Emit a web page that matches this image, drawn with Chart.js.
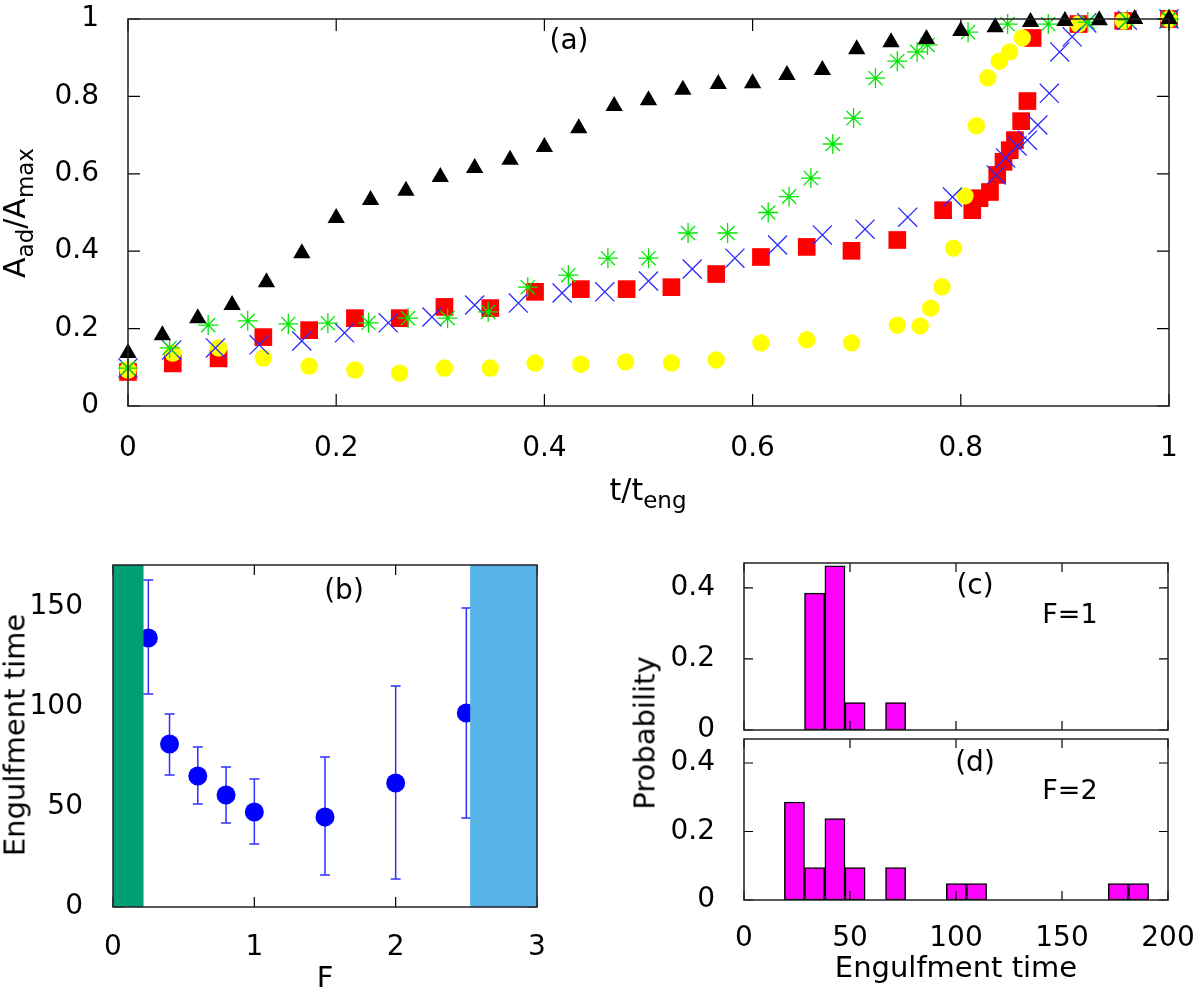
<!DOCTYPE html>
<html>
<head>
<meta charset="utf-8">
<script src="https://cdn.jsdelivr.net/npm/chart.js@4"></script>
<style>
  body { margin: 0; background: #fff; }
  #wrap { position: relative; width: 1200px; height: 992px; font-family: 'DejaVu Sans', sans-serif; color: #000; overflow: hidden; }
  canvas { position: absolute; }
  .lbl { position: absolute; transform: translate(-50%, -50%); line-height: 1; white-space: nowrap; }
  .rot { transform: translate(-50%, -50%) rotate(-90deg); }
  .sb { position: relative; top: 8px; font-size: 23px; }
</style>
</head>
<body>
<div id="wrap">
  <canvas id="chartA" width="1200" height="540" style="left:0;top:0"></canvas>
  <canvas id="chartB" width="580" height="452" style="left:0;top:540px"></canvas>
  <canvas id="chartC" width="620" height="200" style="left:580px;top:540px"></canvas>
  <canvas id="chartD" width="620" height="262" style="left:580px;top:730px"></canvas>

  <div class="lbl" style="left:569px;top:40px;font-size:28px">(a)</div>
  <div class="lbl rot" style="left:15px;top:213px;font-size:30px">A<span class="sb">ad</span>/A<span class="sb">max</span></div>
  <div class="lbl" style="left:648px;top:490px;font-size:30px">t/t<span class="sb">eng</span></div>

  <div class="lbl" style="left:344px;top:590px;font-size:28px">(b)</div>
  <div class="lbl rot" style="left:15px;top:735px;font-size:29px">Engulfment time</div>
  <div class="lbl" style="left:325px;top:977px;font-size:29px">F</div>

  <div class="lbl" style="left:975px;top:585px;font-size:28px">(c)</div>
  <div class="lbl" style="left:1070px;top:613px;font-size:27px">F=1</div>
  <div class="lbl" style="left:975px;top:762px;font-size:28px">(d)</div>
  <div class="lbl" style="left:1070px;top:789px;font-size:27px">F=2</div>
  <div class="lbl rot" style="left:645px;top:733px;font-size:29px">Probability</div>
  <div class="lbl" style="left:956px;top:967px;font-size:29px">Engulfment time</div>
</div>

<script>
// ---- panel (a): adhered area fraction vs normalised time ----
const triX = [0, 0.033, 0.067, 0.1, 0.133, 0.167, 0.2, 0.233, 0.267, 0.3, 0.333, 0.367, 0.4, 0.433, 0.467, 0.5,
  0.533, 0.567, 0.6, 0.633, 0.667, 0.7, 0.733, 0.767, 0.8, 0.833, 0.867, 0.9, 0.933, 0.967, 1];
const triY = [0.137, 0.183, 0.227, 0.261, 0.32, 0.395, 0.486, 0.532, 0.556, 0.592, 0.615, 0.636, 0.669, 0.718, 0.775, 0.79,
  0.817, 0.832, 0.834, 0.855, 0.868, 0.922, 0.94, 0.948, 0.969, 0.979, 0.992, 0.995, 0.997, 1.0, 1.0];

const starX = [0, 0.040, 0.077, 0.115, 0.154, 0.192, 0.231, 0.269, 0.307, 0.346, 0.384, 0.423, 0.461, 0.5, 0.538, 0.576,
  0.615, 0.635, 0.656, 0.677, 0.697, 0.718, 0.739, 0.758, 0.768, 0.807, 0.845, 0.884, 0.922, 0.96, 1.0];
const starY = [0.098, 0.15, 0.209, 0.22, 0.212, 0.214, 0.215, 0.227, 0.227, 0.243, 0.307, 0.338, 0.382, 0.382, 0.447, 0.447,
  0.5, 0.541, 0.589, 0.677, 0.744, 0.847, 0.891, 0.915, 0.933, 0.966, 0.987, 0.987, 0.992, 0.997, 1.0];

const crossX = [0, 0.042, 0.084, 0.126, 0.167, 0.208, 0.25, 0.292, 0.333, 0.375, 0.417, 0.458, 0.5, 0.542, 0.583, 0.624,
  0.667, 0.708, 0.749, 0.792, 0.834, 0.843, 0.854, 0.864, 0.874, 0.885, 0.895, 0.907, 0.921, 0.96, 1.0];
const crossY = [0.098, 0.145, 0.15, 0.158, 0.168, 0.189, 0.215, 0.23, 0.261, 0.266, 0.292, 0.295, 0.323, 0.354, 0.382, 0.416,
  0.442, 0.457, 0.488, 0.54, 0.597, 0.641, 0.672, 0.687, 0.726, 0.808, 0.915, 0.954, 0.99, 0.997, 1.0];

const squareX = [0, 0.043, 0.087, 0.13, 0.174, 0.218, 0.261, 0.304, 0.348, 0.391, 0.435, 0.479, 0.522, 0.565, 0.608, 0.652,
  0.695, 0.739, 0.783, 0.811, 0.818, 0.828, 0.835, 0.841, 0.847, 0.852, 0.858, 0.864, 0.869, 0.913, 0.956, 1.0];
const squareY = [0.088, 0.11, 0.123, 0.178, 0.196, 0.227, 0.227, 0.256, 0.253, 0.295, 0.302, 0.302, 0.307, 0.341, 0.385, 0.411,
  0.401, 0.429, 0.506, 0.506, 0.537, 0.553, 0.597, 0.631, 0.661, 0.687, 0.736, 0.788, 0.951, 0.987, 0.995, 1.0];

const circleX = [0, 0.043, 0.087, 0.13, 0.174, 0.218, 0.261, 0.304, 0.348, 0.391, 0.435, 0.478, 0.522, 0.565, 0.608, 0.652,
  0.695, 0.739, 0.761, 0.771, 0.782, 0.793, 0.804, 0.815, 0.826, 0.837, 0.847, 0.859, 0.913, 0.956, 1.0];
const circleY = [0.093, 0.137, 0.15, 0.124, 0.103, 0.093, 0.085, 0.098, 0.098, 0.111, 0.108, 0.114, 0.111, 0.119, 0.163, 0.171,
  0.163, 0.209, 0.207, 0.253, 0.308, 0.408, 0.543, 0.724, 0.848, 0.891, 0.915, 0.951, 0.987, 0.995, 1.0];

// ---- panel (b): engulfment time vs F ----
const forceF = [0.25, 0.4, 0.6, 0.8, 1, 1.5, 2, 2.5];
const engTime = [134.5, 81.5, 65.5, 56, 47.5, 45, 62, 97];
const engHigh = [163.5, 96.5, 80, 70, 64, 75, 110.5, 149.5];
const engLow = [106.5, 66, 51.5, 42, 31.5, 16, 14, 44.5];
const greenBand = [0, 0.216];
const blueBand = [2.527, 3];

// ---- panels (c), (d): histograms of engulfment time ----
const binsF1 = [33.3, 42.9, 52.4, 71.5];
const probF1 = [0.385, 0.462, 0.077, 0.077];
const binsF2 = [23.8, 33.3, 42.9, 52.4, 71.5, 100.2, 109.7, 176.6, 186.1];
const probF2 = [0.286, 0.095, 0.238, 0.095, 0.095, 0.048, 0.048, 0.048, 0.048];

Chart.defaults.font.family = "'DejaVu Sans', sans-serif";
Chart.defaults.color = '#000';

const pts = (xs, ys) => xs.map((v, i) => ({ x: v, y: ys[i] }));
// plain labels like gnuplot: 0, 0.2, ..., 1
const plain = v => String(Number(v.toFixed(2)));

// gnuplot-like frame: inward ticks on all four sides, then the box
function frame(len) {
  return {
    id: 'frame',
    afterDatasetsDraw(chart) {
      const { ctx, chartArea: a, scales: { x, y } } = chart;
      ctx.save();
      ctx.strokeStyle = '#000';
      ctx.lineWidth = 1.2;
      ctx.beginPath();
      x.ticks.forEach(t => {
        const px = x.getPixelForValue(t.value);
        ctx.moveTo(px, a.bottom); ctx.lineTo(px, a.bottom - len);
        ctx.moveTo(px, a.top); ctx.lineTo(px, a.top + len);
      });
      y.ticks.forEach(t => {
        const py = y.getPixelForValue(t.value);
        ctx.moveTo(a.left, py); ctx.lineTo(a.left + len, py);
        ctx.moveTo(a.right, py); ctx.lineTo(a.right - len, py);
      });
      ctx.stroke();
      ctx.restore();
    },
    afterDraw(chart) {
      const { ctx, chartArea: a } = chart;
      ctx.save();
      ctx.strokeStyle = '#222';
      ctx.lineWidth = 1.5;
      ctx.strokeRect(a.left, a.top, a.width, a.height);
      ctx.restore();
    }
  };
}

function xAxis(min, max, step, pad, height, showLabels, size) {
  return {
    type: 'linear', min: min, max: max, offset: false,
    grid: { display: false, offset: false }, border: { display: false },
    ticks: { stepSize: step, includeBounds: false, padding: pad, display: showLabels, font: { size: size }, callback: plain },
    afterFit: s => { s.height = height; s.paddingLeft = 0; s.paddingRight = 0; }
  };
}

function yAxis(min, max, step, pad, width, size) {
  return {
    type: 'linear', min: min, max: max,
    grid: { display: false }, border: { display: false },
    ticks: { stepSize: step, includeBounds: false, padding: pad, font: { size: size }, callback: plain },
    afterFit: s => { s.width = width; s.paddingTop = 0; s.paddingBottom = 0; }
  };
}

const baseOpts = {
  responsive: false,
  animation: false,
  plugins: { legend: { display: false }, tooltip: { enabled: false } }
};

// Panel (a)
new Chart(document.getElementById('chartA'), {
  type: 'scatter',
  data: {
    datasets: [
      { data: pts(triX, triY), pointStyle: 'triangle', pointRadius: 10, backgroundColor: '#000', borderWidth: 0, order: 0, clip: false },
      { data: pts(starX, starY), pointStyle: 'star', pointRadius: 10, borderColor: '#00e600', borderWidth: 1.3, order: 1, clip: false },
      { data: pts(crossX, crossY), pointStyle: 'crossRot', pointRadius: 13.5, borderColor: '#2a2aff', borderWidth: 1.3, order: 2, clip: false },
      { data: pts(circleX, circleY), pointStyle: 'circle', pointRadius: 8.7, backgroundColor: '#ffff00', borderWidth: 0, order: 3, clip: false },
      { data: pts(squareX, squareY), pointStyle: 'rect', pointRadius: 12.5, backgroundColor: '#ff0000', borderWidth: 0, order: 4, clip: false }
    ]
  },
  options: {
    ...baseOpts,
    layout: { padding: { top: 19, right: 31, left: 0, bottom: 0 } },
    scales: {
      x: xAxis(0, 1, 0.2, 18, 134, true, 28),
      y: yAxis(0, 1, 0.2, 21, 128, 28)
    }
  },
  plugins: [frame(12)]
});

// Panel (b)
const errorBars = {
  id: 'errorBars',
  beforeDatasetsDraw(chart) {
    const { ctx, scales: { x, y } } = chart;
    ctx.save();
    ctx.strokeStyle = '#3030ff';
    ctx.lineWidth = 1.5;
    ctx.beginPath();
    forceF.forEach((f, i) => {
      const px = x.getPixelForValue(f);
      const top = y.getPixelForValue(engHigh[i]);
      const bot = y.getPixelForValue(engLow[i]);
      ctx.moveTo(px, top); ctx.lineTo(px, bot);
      ctx.moveTo(px - 5, top); ctx.lineTo(px + 5, top);
      ctx.moveTo(px - 5, bot); ctx.lineTo(px + 5, bot);
    });
    ctx.stroke();
    ctx.restore();
  }
};

const bands = {
  id: 'bands',
  afterDatasetsDraw(chart) {
    const { ctx, chartArea: a, scales: { x } } = chart;
    ctx.save();
    ctx.fillStyle = '#009e73';
    const g0 = x.getPixelForValue(greenBand[0]), g1 = x.getPixelForValue(greenBand[1]);
    ctx.fillRect(g0, a.top, g1 - g0, a.height);
    ctx.fillStyle = '#56b4e9';
    const b0 = x.getPixelForValue(blueBand[0]), b1 = x.getPixelForValue(blueBand[1]);
    ctx.fillRect(b0, a.top, b1 - b0, a.height);
    ctx.restore();
  }
};

new Chart(document.getElementById('chartB'), {
  type: 'scatter',
  data: {
    datasets: [
      { data: pts(forceF, engTime), pointStyle: 'circle', pointRadius: 9.5, backgroundColor: '#0000ff', borderWidth: 0, clip: false }
    ]
  },
  options: {
    ...baseOpts,
    layout: { padding: { top: 25, right: 43, left: 0, bottom: 0 } },
    scales: {
      x: xAxis(0, 3, 1, 16, 85, true, 28),
      y: yAxis(0, 171, 50, 22, 113, 28)
    }
  },
  plugins: [errorBars, frame(10), bands]
});

// Panels (c) and (d)
function histDataset(bins, probs) {
  return {
    data: pts(bins, probs),
    backgroundColor: '#ff00ff',
    borderColor: '#000',
    borderWidth: 1.5,
    borderSkipped: false,
    barPercentage: 1,
    categoryPercentage: 1
  };
}

new Chart(document.getElementById('chartC'), {
  type: 'bar',
  data: { datasets: [histDataset(binsF1, probF1)] },
  options: {
    ...baseOpts,
    layout: { padding: { top: 23, right: 32, left: 0, bottom: 0 } },
    scales: {
      x: xAxis(0, 200, 50, 16, 10, false, 28),
      y: yAxis(0, 0.47, 0.2, 21, 164, 28)
    }
  },
  plugins: [frame(9)]
});

new Chart(document.getElementById('chartD'), {
  type: 'bar',
  data: { datasets: [histDataset(binsF2, probF2)] },
  options: {
    ...baseOpts,
    layout: { padding: { top: 9, right: 32, left: 0, bottom: 0 } },
    scales: {
      x: xAxis(0, 200, 50, 14, 92, true, 28),
      y: yAxis(0, 0.47, 0.2, 21, 164, 28)
    }
  },
  plugins: [frame(9)]
});
</script>
</body>
</html>
